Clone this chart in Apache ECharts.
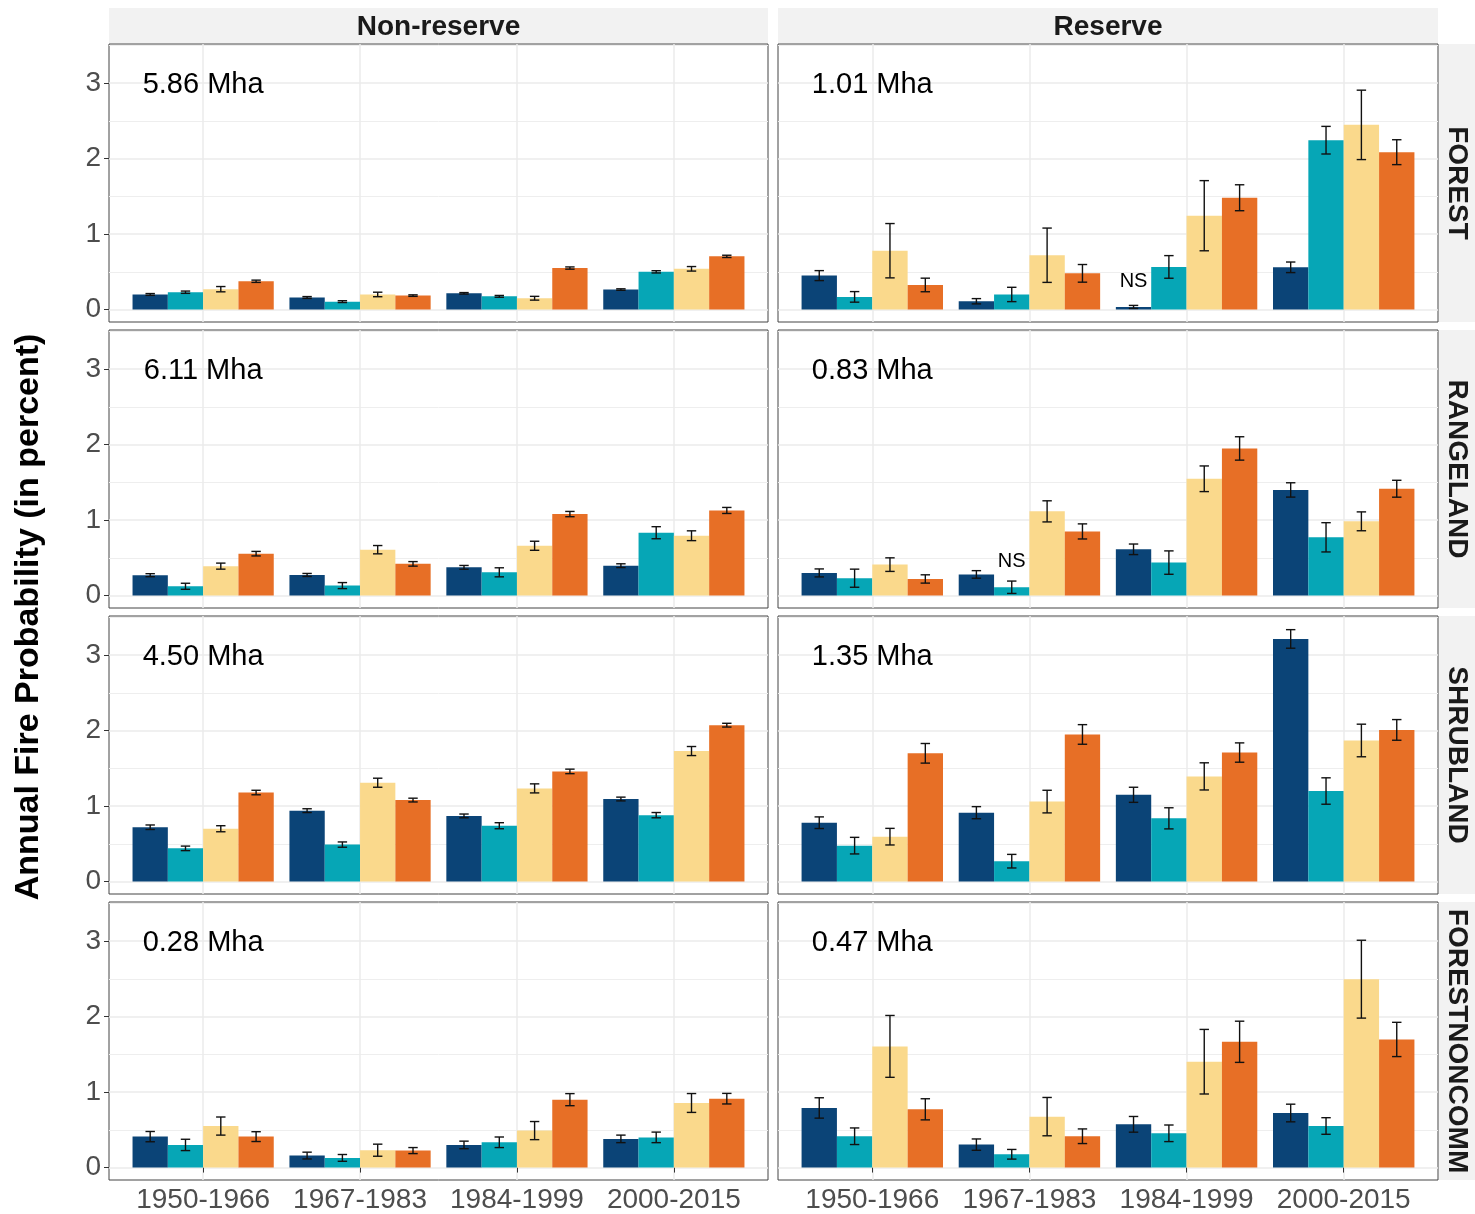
<!DOCTYPE html>
<html><head><meta charset="utf-8">
<script src="https://cdn.jsdelivr.net/npm/echarts@6/dist/echarts.min.js"></script>
<style>html,body{margin:0;padding:0;background:#fff}#chart{width:1475px;height:1214px}</style>
</head><body><div id="chart"></div><script>
// ---------- DATA ----------
const periods = ['1950-1966', '1967-1983', '1984-1999', '2000-2015'];
const landTypes = ['FOREST', 'RANGELAND', 'SHRUBLAND', 'FORESTNONCOMM'];
const statuses = ['Non-reserve', 'Reserve'];
const yTicks = [0, 1, 2, 3];
const yMinorTicks = [0.5, 1.5, 2.5, 3.5];
const barColors = ['#0b4477', '#06a6b6', '#fad98c', '#e76f26'];

const areaNonReserve = ['5.86 Mha', '6.11 Mha', '4.50 Mha', '0.28 Mha'];
const areaReserve = ['1.01 Mha', '0.83 Mha', '1.35 Mha', '0.47 Mha'];

// mean per period: [navy, teal, yellow, orange]; err = half-width of error bar
const forestNonReserve = [[0.20, 0.23, 0.27, 0.375], [0.16, 0.105, 0.20, 0.185], [0.215, 0.175, 0.15, 0.55], [0.265, 0.50, 0.54, 0.705]];
const forestNonReserveErr = [[0.012, 0.015, 0.035, 0.015], [0.012, 0.012, 0.03, 0.01], [0.01, 0.012, 0.025, 0.015], [0.01, 0.015, 0.03, 0.015]];
const forestReserve = [[0.45, 0.168, 0.78, 0.326], [0.11, 0.20, 0.72, 0.48], [0.035, 0.565, 1.244, 1.482], [0.56, 2.245, 2.448, 2.086]];
const forestReserveErr = [[0.066, 0.07, 0.36, 0.09], [0.035, 0.095, 0.36, 0.117], [0.02, 0.15, 0.465, 0.172], [0.07, 0.183, 0.46, 0.165]];

const rangeNonReserve = [[0.27, 0.123, 0.39, 0.555], [0.273, 0.132, 0.608, 0.42], [0.374, 0.308, 0.66, 1.08], [0.396, 0.833, 0.793, 1.128]];
const rangeNonReserveErr = [[0.02, 0.04, 0.04, 0.03], [0.02, 0.04, 0.055, 0.03], [0.025, 0.06, 0.06, 0.035], [0.025, 0.08, 0.065, 0.04]];
const rangeReserve = [[0.30, 0.23, 0.41, 0.22], [0.28, 0.11, 1.116, 0.85], [0.613, 0.437, 1.548, 1.95], [1.40, 0.772, 0.984, 1.416]];
const rangeReserveErr = [[0.053, 0.12, 0.09, 0.055], [0.05, 0.082, 0.14, 0.10], [0.07, 0.155, 0.17, 0.155], [0.095, 0.194, 0.125, 0.112]];

const shrubNonReserve = [[0.72, 0.44, 0.70, 1.18], [0.94, 0.49, 1.31, 1.08], [0.87, 0.74, 1.235, 1.46], [1.094, 0.88, 1.73, 2.073]];
const shrubNonReserveErr = [[0.03, 0.03, 0.04, 0.03], [0.025, 0.035, 0.06, 0.025], [0.025, 0.04, 0.06, 0.03], [0.025, 0.035, 0.06, 0.025]];
const shrubReserve = [[0.78, 0.476, 0.595, 1.70], [0.913, 0.27, 1.06, 1.95], [1.15, 0.838, 1.394, 1.71], [3.216, 1.20, 1.87, 2.01]];
const shrubReserveErr = [[0.077, 0.11, 0.11, 0.13], [0.08, 0.09, 0.15, 0.13], [0.1, 0.14, 0.18, 0.128], [0.123, 0.175, 0.216, 0.137]];

const fncNonReserve = [[0.41, 0.30, 0.55, 0.41], [0.159, 0.128, 0.23, 0.225], [0.30, 0.335, 0.49, 0.90], [0.38, 0.40, 0.856, 0.913]];
const fncNonReserveErr = [[0.068, 0.075, 0.12, 0.065], [0.045, 0.045, 0.08, 0.04], [0.05, 0.07, 0.12, 0.08], [0.05, 0.07, 0.125, 0.07]];
const fncReserve = [[0.79, 0.415, 1.606, 0.772], [0.304, 0.176, 0.675, 0.415], [0.573, 0.454, 1.403, 1.667], [0.723, 0.551, 2.497, 1.698]];
const fncReserveErr = [[0.135, 0.11, 0.41, 0.14], [0.075, 0.064, 0.254, 0.097], [0.104, 0.11, 0.428, 0.273], [0.117, 0.11, 0.516, 0.227]];

// "NS" labels: [landTypeIndex, statusIndex, periodIndex, barIndex, labelY]
const nsLabels = [[0, 1, 2, 0, 0.37], [1, 1, 1, 1, 0.45]];

const panelMeans = [[forestNonReserve, forestReserve], [rangeNonReserve, rangeReserve], [shrubNonReserve, shrubReserve], [fncNonReserve, fncReserve]];
const panelErrs = [[forestNonReserveErr, forestReserveErr], [rangeNonReserveErr, rangeReserveErr], [shrubNonReserveErr, shrubReserveErr], [fncNonReserveErr, fncReserveErr]];
const panelAreas = [areaNonReserve, areaReserve];

// ---------- LAYOUT ----------
const FONT = '"Liberation Sans", Arial, sans-serif';
const colLeft = [109, 778], colWidth = [659, 660];
const rowTop = [44, 330, 616, 902], rowHeight = 278;
const BAR_W = 0.225, CAP = 0.03;

const grids = [], xAxes = [], yAxes = [], series = [], graphics = [];

for (let r = 0; r < 4; r++) {
  for (let c = 0; c < 2; c++) {
    const k = r * 2 + c;
    grids.push({ left: colLeft[c], top: rowTop[r], width: colWidth[c], height: rowHeight,
      show: true, borderColor: '#444', borderWidth: 1, backgroundColor: 'transparent' });
    xAxes.push({ type: 'value', gridIndex: k, min: 0.4, max: 4.6,
      axisLine: { show: false },
      axisTick: { show: r === 3, length: 5, customValues: [1, 2, 3, 4], lineStyle: { color: '#333', width: 1 } },
      axisLabel: { show: r === 3, customValues: [1, 2, 3, 4], margin: 6,
        formatter: v => periods[Math.round(v) - 1], fontSize: 28, fontFamily: FONT, color: '#4d4d4d' },
      splitLine: { show: true, lineStyle: { color: '#ebebeb', width: 1.5 } } });
    yAxes.push({ type: 'value', gridIndex: k, min: -0.165, max: 3.52,
      axisLine: { show: false },
      axisTick: { show: c === 0, length: 5, customValues: yTicks, lineStyle: { color: '#333', width: 1 } },
      axisLabel: { show: c === 0, customValues: yTicks, margin: 8, fontSize: 28, fontFamily: FONT, color: '#4d4d4d' },
      splitLine: { show: true, lineStyle: { color: '#ebebeb', width: 1.5 } } });
    yAxes.push({ type: 'value', gridIndex: k, min: -0.165, max: 3.52, position: 'right',
      axisLine: { show: false },
      axisTick: { show: false, customValues: yMinorTicks },
      axisLabel: { show: false, customValues: yMinorTicks },
      splitLine: { show: true, lineStyle: { color: '#eeeeee', width: 1 } } });

    const means = panelMeans[r][c], errs = panelErrs[r][c];
    const barData = [], errData = [];
    for (let p = 0; p < 4; p++) for (let s = 0; s < 4; s++) {
      barData.push([p + 1, s, means[p][s]]);
      errData.push([p + 1, s, means[p][s] - errs[p][s], means[p][s] + errs[p][s]]);
    }
    series.push({ type: 'custom', xAxisIndex: k, yAxisIndex: 2 * k, data: barData, encode: { x: 0, y: 2 }, silent: true,
      renderItem: (params, api) => {
        const x = api.value(0), s = api.value(1), v = api.value(2);
        const cx = x + (s - 1.5) * BAR_W;
        const a = api.coord([cx - BAR_W / 2, 0]), b = api.coord([cx + BAR_W / 2, v]);
        return { type: 'rect', shape: { x: a[0], y: b[1], width: b[0] - a[0], height: a[1] - b[1] }, style: { fill: barColors[s] } };
      } });
    series.push({ type: 'custom', xAxisIndex: k, yAxisIndex: 2 * k, data: errData, encode: { x: 0, y: [2, 3] }, silent: true, z: 3,
      renderItem: (params, api) => {
        const x = api.value(0), s = api.value(1), lo = api.value(2), hi = api.value(3);
        const cx = x + (s - 1.5) * BAR_W;
        const pl = api.coord([cx, lo]), ph = api.coord([cx, hi]);
        const l1 = api.coord([cx - CAP, lo]), r1 = api.coord([cx + CAP, lo]);
        const l2 = api.coord([cx - CAP, hi]), r2 = api.coord([cx + CAP, hi]);
        const st = { stroke: '#111', lineWidth: 1.4 };
        return { type: 'group', children: [
          { type: 'line', shape: { x1: pl[0], y1: pl[1], x2: ph[0], y2: ph[1] }, style: st },
          { type: 'line', shape: { x1: l1[0], y1: l1[1], x2: r1[0], y2: r1[1] }, style: st },
          { type: 'line', shape: { x1: l2[0], y1: l2[1], x2: r2[0], y2: r2[1] }, style: st } ] };
      } });
    const txt = [[1, 2.97, panelAreas[c][r], 29]];
    nsLabels.forEach(n => { if (n[0] === r && n[1] === c) txt.push([n[2] + 1 + (n[3] - 1.5) * BAR_W, n[4], 'NS', 20]); });
    series.push({ type: 'custom', xAxisIndex: k, yAxisIndex: 2 * k, data: txt, encode: { x: 0, y: 1 }, silent: true, z: 4,
      renderItem: (params, api) => {
        const p = api.coord([api.value(0), api.value(1)]);
        return { type: 'text', x: p[0], y: p[1], style: { text: txt[params.dataIndex][2], fontSize: txt[params.dataIndex][3],
          fontFamily: FONT, fill: '#000', align: 'center', verticalAlign: 'middle' } };
      } });
  }
}

// strips
for (let c = 0; c < 2; c++) {
  graphics.push({ type: 'rect', shape: { x: colLeft[c], y: 8, width: colWidth[c], height: 35 }, style: { fill: '#f2f2f2' }, silent: true });
  graphics.push({ type: 'text', x: colLeft[c] + colWidth[c] / 2, y: 27, style: { text: statuses[c], fontSize: 28, fontWeight: 'bold',
    fontFamily: FONT, fill: '#1a1a1a', align: 'center', verticalAlign: 'middle' }, silent: true });
}
for (let r = 0; r < 4; r++) {
  graphics.push({ type: 'rect', shape: { x: 1439, y: rowTop[r], width: 36, height: rowHeight }, style: { fill: '#f2f2f2' }, silent: true });
  graphics.push({ type: 'text', x: 1457, y: rowTop[r] + rowHeight / 2, rotation: -Math.PI / 2,
    style: { text: landTypes[r], fontSize: 28, fontWeight: 'bold', fontFamily: FONT, fill: '#1a1a1a', align: 'center', verticalAlign: 'middle' }, silent: true });
}
graphics.push({ type: 'text', x: 29, y: 617, rotation: Math.PI / 2,
  style: { text: 'Annual Fire Probability (in percent)', fontSize: 34, fontWeight: 'bold', fontFamily: FONT, fill: '#000', align: 'center', verticalAlign: 'middle' }, silent: true });

const chart = echarts.init(document.getElementById('chart'), null, { renderer: 'canvas' });
chart.setOption({ backgroundColor: '#fff', animation: false, grid: grids, xAxis: xAxes, yAxis: yAxes, series: series, graphic: graphics });
</script></body></html>
